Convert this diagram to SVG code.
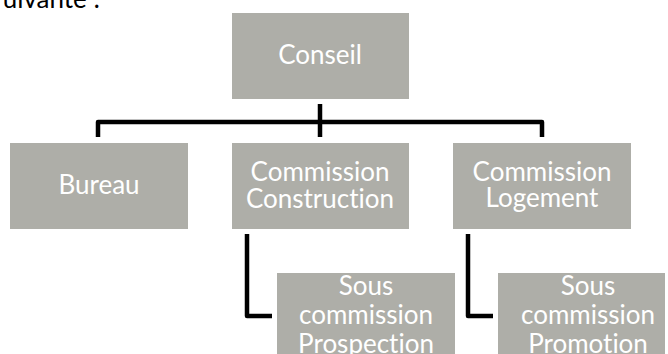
<svg xmlns="http://www.w3.org/2000/svg" width="668" height="354" viewBox="0 0 668 354">
  <style>
    .box { fill: #AEAEA8; }
    .lbl { font-family: Lato, "Liberation Sans", sans-serif; font-size: 26px; fill: #FFFFFF; text-anchor: middle; font-variant-ligatures: none; font-feature-settings: "liga" 0, "clig" 0; }
    .body { font-family: Lato, "Liberation Sans", sans-serif; font-size: 26px; fill: #000000; }
    .conn { fill: none; stroke: #000000; stroke-width: 4.5; stroke-linejoin: round; }
  </style>
  <rect width="668" height="354" fill="#FFFFFF"/>
  <text class="body" x="100" y="8" text-anchor="end">uivante :</text>

  <g id="connectors">
    <path class="conn" d="M320,104 V137"/>
    <path class="conn" d="M98,137 V122 H542 V137"/>
    <path class="conn" d="M247,234 V316 H272"/>
    <path class="conn" d="M468,234 V316 H493"/>
  </g>

  <g id="conseil">
    <rect class="box" x="232" y="13" width="177" height="86"/>
    <text class="lbl" x="320" y="64">Conseil</text>
  </g>
  <g id="bureau">
    <rect class="box" x="10" y="143" width="178" height="86"/>
    <text class="lbl" x="99" y="194">Bureau</text>
  </g>
  <g id="commission-construction">
    <rect class="box" x="232" y="143" width="177" height="86"/>
    <text class="lbl" x="320" y="181">Commission</text>
    <text class="lbl" x="320" y="208">Construction</text>
  </g>
  <g id="commission-logement">
    <rect class="box" x="453" y="143" width="178" height="86"/>
    <text class="lbl" x="542" y="181">Commission</text>
    <text class="lbl" x="542" y="207">Logement</text>
  </g>
  <g id="sous-commission-prospection">
    <rect class="box" x="277" y="273" width="178" height="90"/>
    <text class="lbl" x="366" y="295">Sous</text>
    <text class="lbl" x="366" y="324">commission</text>
    <text class="lbl" x="366" y="353">Prospection</text>
  </g>
  <g id="sous-commission-promotion">
    <rect class="box" x="498" y="273" width="167" height="90"/>
    <text class="lbl" x="588" y="295">Sous</text>
    <text class="lbl" x="588" y="324">commission</text>
    <text class="lbl" x="588" y="353">Promotion</text>
  </g>
</svg>
